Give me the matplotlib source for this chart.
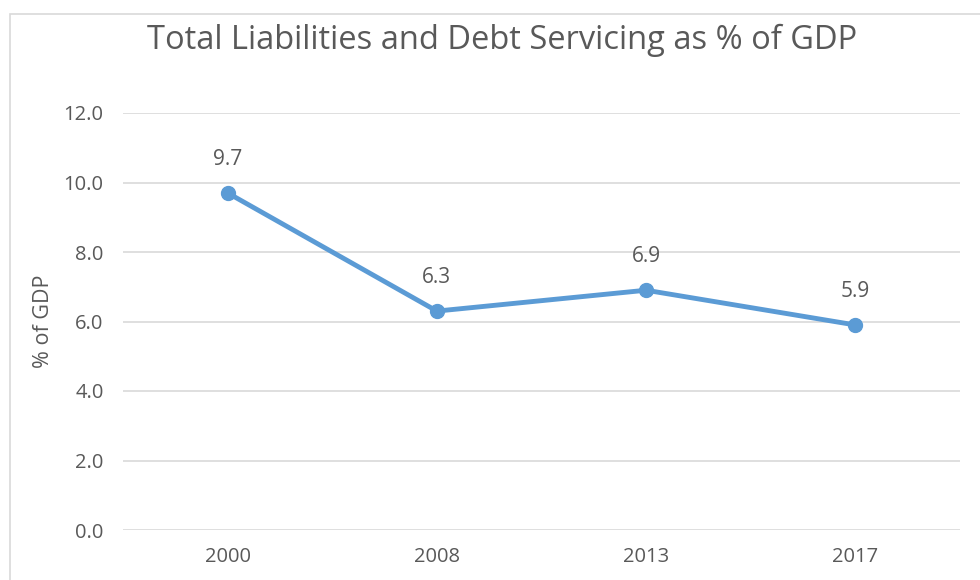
import matplotlib
matplotlib.use("Agg")
import matplotlib.pyplot as plt
from matplotlib.patches import Rectangle

plt.rcParams['font.family'] = ['Open Sans', 'DejaVu Sans']

title = "Total Liabilities and Debt Servicing as % of GDP"
years = ["2000", "2008", "2013", "2017"]
values = [9.7, 6.3, 6.9, 5.9]
yticks = [0, 2, 4, 6, 8, 10, 12]
ylabel = "% of GDP"

text_color = "#595959"
grid_color = "#D9D9D9"
line_color = "#5B9BD5"

W, H = 980, 580
fig = plt.figure(figsize=(W / 100, H / 100), dpi=100)
fig.patch.set_facecolor("white")

# outer chart frame (top and left edges visible)
fig.patches.append(Rectangle((9.5 / W, -0.05), 1.2, (H - 13.5) / H + 0.05,
                             transform=fig.transFigure, fill=False,
                             edgecolor=grid_color, linewidth=1.2))

ax = fig.add_axes([123 / W, 1 - 530 / H, (960 - 123) / W, (530 - 113) / H])
x = list(range(len(years)))
ax.plot(x, values, color=line_color, linewidth=3.5, marker="o",
        markersize=10, solid_capstyle="round", zorder=3)
for xi, v in zip(x, values):
    ax.annotate(f"{v:.1f}", (xi, v), xytext=(0, 24), textcoords="offset points",
                ha="center", va="center", fontsize=15, color=text_color)

ax.set_xlim(-0.5, len(years) - 0.5)
ax.set_ylim(0, 12)
ax.set_xticks(x)
ax.set_xticklabels(years)
ax.set_yticks(yticks)
ax.set_yticklabels([f"{t:.1f}" for t in yticks])
ax.grid(axis="y", color=grid_color, linewidth=1.2)
ax.set_axisbelow(True)
for s in ax.spines.values():
    s.set_visible(False)
ax.tick_params(axis="both", length=0, labelsize=14.5, labelcolor=text_color)
ax.tick_params(axis="y", pad=14)
ax.tick_params(axis="x", pad=12)
ax.set_ylabel(ylabel, fontsize=15.5, color=text_color, labelpad=7)

fig.text(502 / W, 1 - 40 / H, title, ha="center", va="center",
         fontsize=23.5, color=text_color)

fig.savefig("out.png", dpi=100)
